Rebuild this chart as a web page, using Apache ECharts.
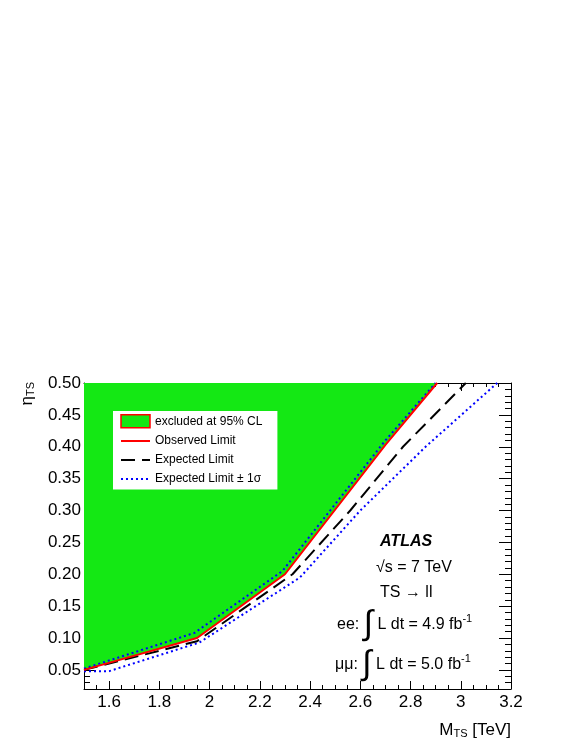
<!DOCTYPE html>
<html><head><meta charset="utf-8">
<script src="https://cdn.jsdelivr.net/npm/echarts@6/dist/echarts.min.js"></script>
<style>html,body{margin:0;padding:0;background:#fff}#c{width:581px;height:752px}</style>
</head><body><div id="c"></div>
<script>
// ---- data ----
const obsMass = [1.5, 1.95, 2.3, 2.7, 2.906];
const obsEta  = [0.05, 0.10, 0.20, 0.403, 0.50];
const expMass = [1.5, 1.95, 2.33, 2.56, 2.77, 3.02];
const expEta  = [0.05, 0.095, 0.20, 0.30, 0.40, 0.50];
const upMass  = [1.5, 1.94, 2.29, 2.5, 2.7, 2.9];
const upEta   = [0.052, 0.108, 0.205, 0.31, 0.41, 0.50];
const dnMass  = [1.5, 1.6, 1.96, 2.36, 2.60, 2.86, 3.145];
const dnEta   = [0.048, 0.048, 0.093, 0.195, 0.30, 0.40, 0.50];
const xTickLabels = [1.6, 1.8, 2.0, 2.2, 2.4, 2.6, 2.8, 3.0, 3.2];
const yTickLabels = [0.05, 0.10, 0.15, 0.20, 0.25, 0.30, 0.35, 0.40, 0.45, 0.50];
const legendNames = ['excluded at 95% CL', 'Observed Limit', 'Expected Limit', 'Expected Limit \u00b1 1\u03c3'];

const zip = (a, b) => a.map((v, i) => [v, b[i]]);
const xMinor = []; for (let i = 31; i <= 64; i++) xMinor.push(+(i * 0.05).toFixed(2));
const yMinor = []; for (let i = 3; i <= 49; i++) yMinor.push(+(i * 0.01).toFixed(2));

const FONT = "'Liberation Sans', Arial, Helvetica, sans-serif";
const GREEN = '#14e814';
const X0 = 1.5, X1 = 3.2, Y0 = 0.02, Y1 = 0.5;

function xAx(pos, ticks, len, label, line) {
  return {
    type: 'value', min: X0, max: X1, position: pos,
    axisLine: { show: line, lineStyle: { color: '#000', width: 1 } },
    axisTick: { show: true, inside: true, length: len, customValues: ticks, lineStyle: { color: '#000', width: 1 } },
    axisLabel: label ? { show: true, customValues: xTickLabels, margin: 5, color: '#000', fontSize: 17, fontFamily: FONT,
      formatter: v => String(Math.round(v * 10) / 10) } : { show: false },
    splitLine: { show: false }, minorTick: { show: false }
  };
}
function yAx(pos, ticks, len, label, line) {
  return {
    type: 'value', min: Y0, max: Y1, position: pos,
    axisLine: { show: line, lineStyle: { color: '#000', width: 1 } },
    axisTick: { show: true, inside: true, length: len, customValues: ticks, lineStyle: { color: '#000', width: 1 } },
    axisLabel: label ? { show: true, customValues: yTickLabels, margin: 3, color: '#000', fontSize: 17, fontFamily: FONT,
      formatter: v => v.toFixed(2) } : { show: false },
    splitLine: { show: false }, minorTick: { show: false }
  };
}

const chart = echarts.init(document.getElementById('c'), null, { renderer: 'canvas' });
chart.setOption({
  backgroundColor: '#fff',
  animation: false,
  grid: { left: 84, right: 70, top: 383, bottom: 63, outerBoundsMode: 'none', containLabel: false },
  xAxis: [
    xAx('bottom', xTickLabels, 8, true, true),
    xAx('bottom', xMinor, 4, false, false),
    xAx('top', xTickLabels, 8, false, true),
    xAx('top', xMinor, 4, false, false)
  ],
  yAxis: [
    yAx('left', yTickLabels, 12, true, true),
    yAx('left', yMinor, 6, false, false),
    yAx('right', yTickLabels, 12, false, true),
    yAx('right', yMinor, 6, false, false)
  ],
  legend: {
    left: 113, top: 411, orient: 'vertical', selectedMode: false,
    itemWidth: 29, itemHeight: 13, itemGap: 6, padding: [3, 15, 4, 7],
    backgroundColor: '#fff', borderWidth: 0,
    textStyle: { color: '#000', fontSize: 12, fontFamily: FONT, lineHeight: 13 },
    data: [
      { name: legendNames[0], icon: 'rect', itemStyle: { color: GREEN, borderColor: '#ff0000', borderWidth: 1.5, opacity: 1 } },
      { name: legendNames[1], itemStyle: { opacity: 0 } },
      { name: legendNames[2], itemStyle: { opacity: 0 } },
      { name: legendNames[3], itemStyle: { opacity: 0 } }
    ]
  },
  series: [
    { name: legendNames[0], type: 'line', data: zip(obsMass, obsEta), symbol: 'none', z: 1,
      lineStyle: { width: 0 }, itemStyle: { color: GREEN },
      areaStyle: { origin: 'end', color: GREEN, opacity: 1 } },
    { name: legendNames[3], type: 'line', data: zip(dnMass, dnEta), symbol: 'none', z: 3,
      lineStyle: { color: '#0000ff', width: 2, type: [2, 3] }, itemStyle: { color: '#0000ff' } },
    { name: legendNames[3], type: 'line', data: zip(upMass, upEta), symbol: 'none', z: 3,
      lineStyle: { color: '#0000ff', width: 2, type: [2, 3] }, itemStyle: { color: '#0000ff' } },
    { name: legendNames[2], type: 'line', data: zip(expMass, expEta), symbol: 'none', z: 4,
      lineStyle: { color: '#000', width: 2, type: [14, 7] }, itemStyle: { color: '#000' } },
    { name: legendNames[1], type: 'line', data: zip(obsMass, obsEta), symbol: 'none', z: 5,
      lineStyle: { color: '#ff0000', width: 2 }, itemStyle: { color: '#ff0000' } }
  ],
  graphic: [
    { type: 'text', x: 27, y: 382, rotation: Math.PI / 2, z: 10,
      style: { text: '{e|\u03b7}{s|TS}', align: 'right', verticalAlign: 'middle', fill: '#000',
        rich: { e: { fontSize: 17, fontFamily: FONT, fill: '#000' }, s: { fontSize: 11, fontFamily: FONT, fill: '#000', padding: [8, 0, 0, 0] } } } },
    { type: 'text', x: 511, y: 730, z: 10,
      style: { text: '{m|M}{s|TS}{m| [TeV]}', align: 'right', verticalAlign: 'middle', fill: '#000',
        rich: { m: { fontSize: 17, fontFamily: FONT, fill: '#000' }, s: { fontSize: 11, fontFamily: FONT, fill: '#000', padding: [8, 0, 0, 0] } } } },
    { type: 'text', x: 380, y: 542, z: 10,
      style: { text: 'ATLAS', align: 'left', verticalAlign: 'middle', fill: '#000', fontSize: 16, fontWeight: 'bold', fontStyle: 'italic', fontFamily: FONT } },
    { type: 'text', x: 376, y: 568, z: 10,
      style: { text: '\u221as = 7 TeV', align: 'left', verticalAlign: 'middle', fill: '#000', fontSize: 16, fontFamily: FONT } },
    { type: 'text', x: 380, y: 593, z: 10,
      style: { text: 'TS \u2192 ll', align: 'left', verticalAlign: 'middle', fill: '#000', fontSize: 16, fontFamily: FONT } },
    { type: 'text', x: 337, y: 625, z: 10,
      style: { text: '{t|ee: }{i|\u222b}{t| L dt = 4.9 fb}{p|-1}', align: 'left', verticalAlign: 'middle', fill: '#000',
        rich: { t: { fontSize: 16, fontFamily: FONT, fill: '#000' }, i: { fontSize: 34, fontFamily: FONT, fill: '#000' },
          p: { fontSize: 11, fontFamily: FONT, fill: '#000', padding: [0, 0, 12, 0] } } } },
    { type: 'text', x: 335, y: 665, z: 10,
      style: { text: '{t|\u03bc\u03bc: }{i|\u222b}{t| L dt = 5.0 fb}{p|-1}', align: 'left', verticalAlign: 'middle', fill: '#000',
        rich: { t: { fontSize: 16, fontFamily: FONT, fill: '#000' }, i: { fontSize: 34, fontFamily: FONT, fill: '#000' },
          p: { fontSize: 11, fontFamily: FONT, fill: '#000', padding: [0, 0, 12, 0] } } } }
  ]
});
</script></body></html>
